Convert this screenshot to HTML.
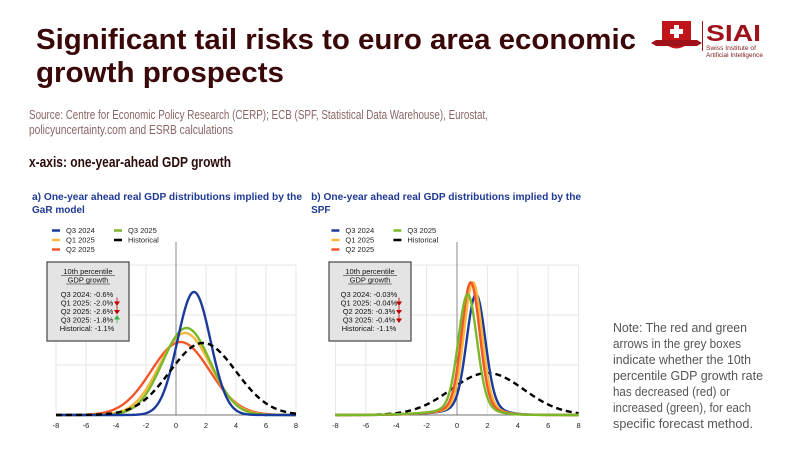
<!DOCTYPE html>
<html><head><meta charset="utf-8"><style>
html,body{margin:0;padding:0;background:#fff;}
svg{display:block;font-family:"Liberation Sans",sans-serif;}
</style></head><body>
<svg id="s" width="800" height="450" viewBox="0 0 800 450" xmlns="http://www.w3.org/2000/svg">
<rect width="800" height="450" fill="#fff"/>
<g fill="#3a0808" font-weight="bold" font-size="29">
<text x="36" y="49" textLength="600" lengthAdjust="spacingAndGlyphs">Significant tail risks to euro area economic</text>
<text x="36" y="82" textLength="248" lengthAdjust="spacingAndGlyphs">growth prospects</text>
</g>
<g fill="#8a6565" font-size="13">
<text x="29" y="119" textLength="459" lengthAdjust="spacingAndGlyphs">Source: Centre for Economic Policy Research (CERP); ECB (SPF, Statistical Data Warehouse), Eurostat,</text>
<text x="29" y="134" textLength="204" lengthAdjust="spacingAndGlyphs">policyuncertainty.com and ESRB calculations</text>
</g>
<text x="29" y="167" font-size="15" font-weight="bold" fill="#2a0a0a" textLength="202" lengthAdjust="spacingAndGlyphs">x-axis: one-year-ahead GDP growth</text>
<g fill="#555" font-size="13">
<text x="613" y="332" textLength="134" lengthAdjust="spacingAndGlyphs">Note: The red and green</text>
<text x="613" y="348" textLength="128" lengthAdjust="spacingAndGlyphs">arrows in the grey boxes</text>
<text x="613" y="364" textLength="138" lengthAdjust="spacingAndGlyphs">indicate whether the 10th</text>
<text x="613" y="380" textLength="150" lengthAdjust="spacingAndGlyphs">percentile GDP growth rate</text>
<text x="613" y="396" textLength="117" lengthAdjust="spacingAndGlyphs">has decreased (red) or</text>
<text x="613" y="412" textLength="138" lengthAdjust="spacingAndGlyphs">increased (green), for each</text>
<text x="613" y="428" textLength="140" lengthAdjust="spacingAndGlyphs">specific forecast method.</text>
</g>
<!-- logo -->
<g>
<path d="M662 21 L691 21 L691 41 Q676.5 56 662 41 Z" fill="#c0151b"/>
<path d="M651 43 L656 40 L697 40 L702 43 L697 46 L656 46 Z" fill="#a0121a"/>
<rect x="674" y="25" width="5" height="13" fill="#fff"/>
<rect x="670" y="29" width="13" height="5" fill="#fff"/>
<rect x="702" y="21" width="1" height="30" fill="#a0121a"/>
<text x="706" y="41" font-size="23" font-weight="bold" fill="#a0121a" textLength="55" lengthAdjust="spacingAndGlyphs">SIAI</text>
<text x="706" y="50" font-size="6.5" fill="#7a1a1a" textLength="50" lengthAdjust="spacingAndGlyphs">Swiss Institute of</text>
<text x="706" y="57" font-size="6.5" fill="#7a1a1a" textLength="57" lengthAdjust="spacingAndGlyphs">Artificial Intelligence</text>
</g>
<g id="charts"></g>
</svg>
<script>
var NS="http://www.w3.org/2000/svg",G=document.getElementById("charts");
function el(t,a,txt){var e=document.createElementNS(NS,t);for(var k in a)e.setAttribute(k,a[k]);if(txt!=null)e.textContent=txt;G.appendChild(e);return e;}
function g(x,m,s){return Math.exp(-0.5*Math.pow((x-m)/s,2));}
function chart(x0,unit,title1,title2,series,box,bx){
  var X=function(v){return x0+v*unit;}, base=415, top=265;
  el("text",{x:x0-144*unit/15,y:200,"font-size":10,"font-weight":"bold",fill:"#1f3a93",textLength:270,lengthAdjust:"spacingAndGlyphs"},title1);
  el("text",{x:x0-144*unit/15,y:213,"font-size":10,"font-weight":"bold",fill:"#1f3a93"},title2);
  for(var i=-8;i<=8;i+=2){
    el("line",{x1:X(i),x2:X(i),y1:top,y2:base,stroke:"#e6e6e6","stroke-width":1});
    el("text",{x:X(i),y:428,"font-size":7.5,fill:"#222","text-anchor":"middle"},i);
  }
  [265,315,365].forEach(function(y){el("line",{x1:X(-8),x2:X(8),y1:y,y2:y,stroke:"#e6e6e6"});});
  el("line",{x1:X(0),x2:X(0),y1:242,y2:base,stroke:"#888","stroke-width":1});
  el("line",{x1:X(-8),x2:X(8),y1:base,y2:base,stroke:"#444","stroke-width":0.8});
  series.forEach(function(s){
    var d="";for(var v=-8;v<=8.001;v+=0.05){d+=(d?"L":"M")+X(v).toFixed(2)+" "+(base-s.f(v)).toFixed(2);}
    var a={d:d,fill:"none",stroke:s.c,"stroke-width":2.4};
    if(s.dash)a["stroke-dasharray"]="6 4";
    el("path",a);
  });
  var lx=X(-8)-4;
  [["Q3 2024","#1a3a9c",0,233],["Q1 2025","#f9b73c",0,242.5],["Q2 2025","#f2562a",0,252],["Q3 2025","#7ab829",1,233],["Historical","#000",1,242.5]].forEach(function(L){
    var x=lx+L[2]*62;
    el("line",{x1:x,x2:x+8,y1:L[3]-2.5,y2:L[3]-2.5,stroke:L[1],"stroke-width":2.5});
    el("text",{x:x+14,y:L[3],"font-size":7.5,fill:"#222"},L[0]);
  });
  el("rect",{x:bx,y:262,width:82,height:79,fill:"#e4e4e4",stroke:"#444","stroke-width":1.2});
  var cx=bx+41;
  el("text",{x:cx,y:274,"font-size":7.5,"text-anchor":"middle",fill:"#111"},"10th percentile");
  el("text",{x:cx,y:282.5,"font-size":7.5,"text-anchor":"middle",fill:"#111"},"GDP growth");
  el("line",{x1:cx-22,x2:cx+22,y1:284,y2:284,stroke:"#111","stroke-width":0.5});
  el("line",{x1:cx-27,x2:cx+27,y1:275.5,y2:275.5,stroke:"#111","stroke-width":0.5});
  box.forEach(function(b,i){
    var y=297+i*8.5;
    el("text",{x:cx-1,y:y,"font-size":7.5,"text-anchor":"middle",fill:"#111"},b[0]);
    if(b[1]){var ax=bx+70,col=b[1]=="d"?"#c00000":"#3cb043";
      if(b[1]=="d"){el("line",{x1:ax,x2:ax,y1:y-8,y2:y-3,stroke:col,"stroke-width":0.8});el("path",{d:"M"+(ax-3)+" "+(y-4)+"L"+(ax+3)+" "+(y-4)+"L"+ax+" "+(y+0.5)+"Z",fill:col});}
      else{el("line",{x1:ax,x2:ax,y1:y-4,y2:y+1,stroke:col,"stroke-width":0.8});el("path",{d:"M"+(ax-3)+" "+(y-3)+"L"+(ax+3)+" "+(y-3)+"L"+ax+" "+(y-7.5)+"Z",fill:col});}
    }
  });
}
chart(176,15,"a) One-year ahead real GDP distributions implied by the","GaR model",[
 {c:"#f2562a",f:function(v){return 73*g(v,0.3,1.95);}},
 {c:"#f9b73c",f:function(v){return 82*g(v,0.6,1.7);}},
 {c:"#7ab829",f:function(v){return 87*g(v,0.7,1.6);}},
 {c:"#1a3a9c",f:function(v){return 123*g(v,1.2,1.1);}},
 {c:"#000",dash:1,f:function(v){return 72*g(v,1.8,2.2);}}
],[["Q3 2024: -0.6%"],["Q1 2025: -2.0%","d"],["Q2 2025: -2.6%","d"],["Q3 2025: -1.8%","u"],["Historical: -1.1%"]],47);
function spf(m,h,s){return function(v){return h*g(v,m,s)+10*g(v,m+0.1,1.1)+3*g(v,m-1,2.2);};}
chart(457,15.2,"b) One-year ahead real GDP distributions implied by the","SPF",[
 {c:"#000",dash:1,f:function(v){return 42*g(v,2,2.4);}},
 {c:"#1a3a9c",f:spf(1.25,108,0.6)},
 {c:"#f9b73c",f:spf(1.05,120,0.58)},
 {c:"#f2562a",f:spf(0.9,120,0.58)},
 {c:"#7ab829",f:spf(0.7,108,0.6)}
],[["Q3 2024: -0.03%"],["Q1 2025: -0.04%","d"],["Q2 2025: -0.3%","d"],["Q3 2025: -0.4%","d"],["Historical: -1.1%"]],329);
</script>
</body></html>
